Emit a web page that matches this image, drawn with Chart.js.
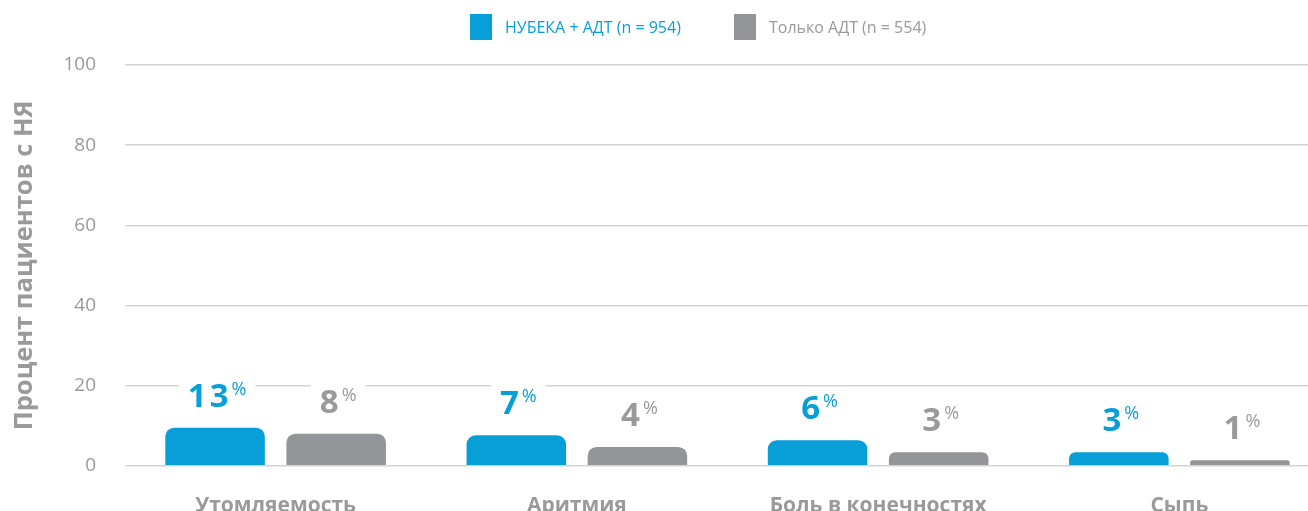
<!DOCTYPE html>
<html>
<head>
<meta charset="utf-8">
<script src="https://cdn.jsdelivr.net/npm/chart.js@4.4.0/dist/chart.umd.min.js"></script>
<style>
  html, body { margin: 0; padding: 0; background: #fff; overflow: hidden; }
  #wrap { position: relative; width: 1330px; height: 547px; }
  #legend { position: absolute; top: 0; left: 0; font-family: "Open Sans", sans-serif; font-size: 16px; }
  .item { position: absolute; top: 14px; height: 26px; display: flex; align-items: center; white-space: nowrap; }
  .box { width: 22px; height: 26px; margin-right: 13px; }
</style>
</head>
<body>
<div id="wrap">
  <canvas id="chart"></canvas>
  <div id="legend"></div>
</div>
<script>
// Categories and values
const categories = ["Утомляемость", "Аритмия", "Боль в конечностях", "Сыпь"];
// bar heights as drawn (percent scale)
const nubekaBars = [9.5, 7.6, 6.4, 3.4];
const adtBars = [8.0, 4.7, 3.4, 1.4];
// numbers printed above the bars
const nubekaLabels = [13, 7, 6, 3];
const adtLabels = [8, 4, 3, 1];
const seriesNames = ["НУБЕКА + АДТ (n = 954)", "Только АДТ (n = 554)"];
const yTicks = [0, 20, 40, 60, 80, 100];

const blue = "#089fd9";
const gray = "#949598";
const textGray = "#9a9a9c";
const font = "'Open Sans', sans-serif";

// legend, built from the series names
const legendPos = [470, 734];
const legendEl = document.getElementById("legend");
seriesNames.forEach(function(name, i) {
  const item = document.createElement("div");
  item.className = "item";
  item.style.left = legendPos[i] + "px";
  item.style.color = i === 0 ? blue : textGray;
  item.innerHTML = '<div class="box" style="background:' + (i === 0 ? blue : gray) + '"></div>' + name;
  legendEl.appendChild(item);
});

// draw the value labels above each bar, on a white patch
const valueLabels = {
  id: "valueLabels",
  afterDatasetsDraw(chart) {
    const ctx = chart.ctx;
    chart.data.datasets.forEach(function(ds, di) {
      const meta = chart.getDatasetMeta(di);
      meta.data.forEach(function(bar, i) {
        const num = String(ds.labelValues[i]);
        ctx.save();
        ctx.font = "bold 33px " + font;
        ctx.letterSpacing = "3px";
        const w1 = ctx.measureText(num).width;
        ctx.letterSpacing = "0px";
        ctx.font = "18px " + font;
        const w2 = ctx.measureText("%").width;
        const total = w1 + w2;
        const x0 = bar.x - total / 2 + 2;
        const base = bar.y - 21;
        ctx.fillStyle = "#fff";
        ctx.fillRect(x0 - 9, base - 31, total + 18, 35);
        ctx.fillStyle = ds.textColor;
        ctx.textBaseline = "alphabetic";
        ctx.textAlign = "left";
        ctx.font = "bold 33px " + font;
        ctx.letterSpacing = "3px";
        ctx.fillText(num, x0, base);
        ctx.letterSpacing = "0px";
        ctx.font = "18px " + font;
        ctx.fillText("%", x0 + w1, base - 12);
        ctx.restore();
      });
    });
  }
};

const chart = new Chart(document.getElementById("chart"), {
  type: "bar",
  data: {
    labels: categories,
    datasets: [
      {
        label: seriesNames[0],
        data: nubekaBars,
        labelValues: nubekaLabels,
        textColor: blue,
        backgroundColor: blue,
        borderRadius: 9,
        categoryPercentage: 0.804,
        barPercentage: 0.822,
      },
      {
        label: seriesNames[1],
        data: adtBars,
        labelValues: adtLabels,
        textColor: textGray,
        backgroundColor: gray,
        borderRadius: 9,
        categoryPercentage: 0.804,
        barPercentage: 0.822,
      },
    ],
  },
  options: {
    responsive: true,
    maintainAspectRatio: false,
    animation: false,
    layout: { padding: { top: 65, right: 0, left: 0, bottom: 0 } },
    plugins: {
      legend: { display: false },
      tooltip: { enabled: false },
    },
    scales: {
      x: {
        grid: { display: false, drawTicks: false },
        border: { display: false },
        ticks: {
          padding: 28,
          color: textGray,
          font: { family: font, size: 21, weight: "bold" },
        },
      },
      y: {
        min: 0,
        max: 100,
        afterBuildTicks: function(axis) {
          axis.ticks = yTicks.map(function(v) { return { value: v }; });
        },
        afterFit: function(axis) { axis.width = 125; },
        border: { display: false },
        grid: { color: "#d3d3d3", lineWidth: 1.5, drawTicks: false },
        ticks: {
          padding: 29,
          color: textGray,
          font: { family: font, size: 19 },
        },
        title: {
          display: true,
          text: "Процент пациентов с НЯ",
          color: textGray,
          padding: { top: 9, bottom: 0 },
          font: { family: font, size: 25.5, weight: "bold" },
        },
      },
    },
  },
  plugins: [valueLabels],
});
</script>
</body>
</html>
